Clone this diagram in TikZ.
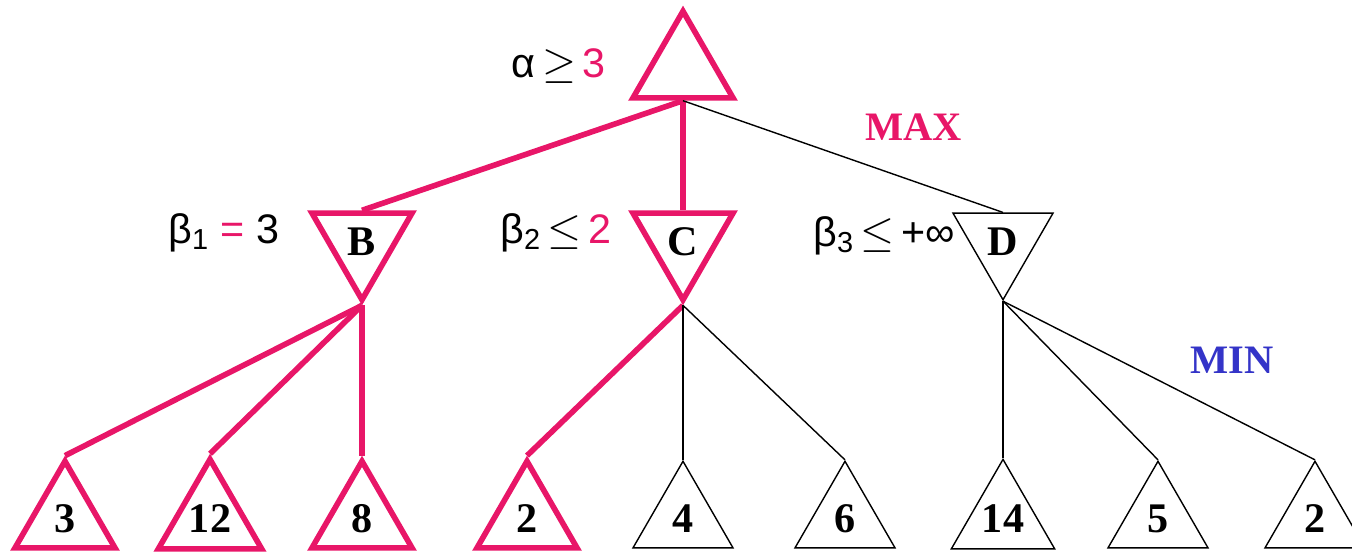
\documentclass[tikz,border=0pt]{standalone}
\usepackage{fontspec}
\setmainfont{Liberation Serif}
\newfontfamily\lblfont{Liberation Sans}
\usetikzlibrary{shapes.geometric}
\definecolor{maxpink}{RGB}{232,22,104}
\definecolor{minblue}{RGB}{52,52,200}
\tikzstyle{maxtri} = [regular polygon, regular polygon sides=3, minimum size=2.31cm, inner sep=0pt, draw=black, line width=0.8pt, font=\fontsize{24}{26}\selectfont\bfseries]
\tikzstyle{mintri} = [maxtri, shape border rotate=180]
\tikzstyle{hot} = [draw=maxpink, line width=3.2pt]
\tikzstyle{edge} = [draw=black, line width=0.8pt]
\tikzstyle{hotedge} = [draw=maxpink, line width=3.2pt]
\tikzstyle{bound} = [inner sep=0pt, anchor=base west, font=\lblfont\fontsize{23.5}{26}\selectfont]
\tikzstyle{level} = [inner sep=0pt, anchor=base west, font=\fontsize{23}{26}\selectfont\bfseries]

\begin{document}
\begin{tikzpicture}[x=0.02cm, y=-0.02cm]

\useasboundingbox (0,0) rectangle (1352,552);

% max root and min nodes
\node (A) [maxtri, hot] at (683,69) {};
\node (B) [mintri, hot] at (362,242) {B};
\node (C) [mintri, hot] at (683,242) {C};
\node (D) [mintri] at (1003,242) {D};

% leaves
\foreach \n/\x/\v in {1/65/3, 2/210/12, 3/362/8, 4/527/2}
  \node (L\n) [maxtri, hot] at (\x,519) {\v};
\foreach \n/\x/\v in {5/683/4, 6/845/6, 7/1003/14, 8/1158/5, 9/1315/2}
  \node (L\n) [maxtri] at (\x,519) {\v};

% edges
\draw [hotedge] (A.side 2) -- (B.side 2);
\draw [hotedge] (A.side 2) -- (C.side 2);
\draw [edge] (A.side 2) -- (D.side 2);
\foreach \n in {1,2,3}
  \draw [hotedge] (B.corner 1) -- (L\n.corner 1);
\draw [hotedge] (C.corner 1) -- (L4.corner 1);
\foreach \n in {5,6}
  \draw [edge] (C.corner 1) -- (L\n.corner 1);
\foreach \n in {7,8,9}
  \draw [edge] (D.corner 1) -- (L\n.corner 1);

% bounds
\node (alpha) [bound] at (511,77) {α\,$\geq$\,\textcolor{maxpink}{3}};
\node (beta1) [bound] at (168,243) {β\textsubscript{1} \textcolor{maxpink}{=} 3};
\node (beta2) [bound] at (500,243) {β\textsubscript{2}\,$\leq$\,\textcolor{maxpink}{2}};
\node (beta3) [bound] at (813,246) {β\textsubscript{3}\,$\leq$\,+∞};

\node (max) [level, text=maxpink] at (865,140) {MAX};
\node (min) [level, text=minblue] at (1190,373) {MIN};

\end{tikzpicture}
\end{document}
